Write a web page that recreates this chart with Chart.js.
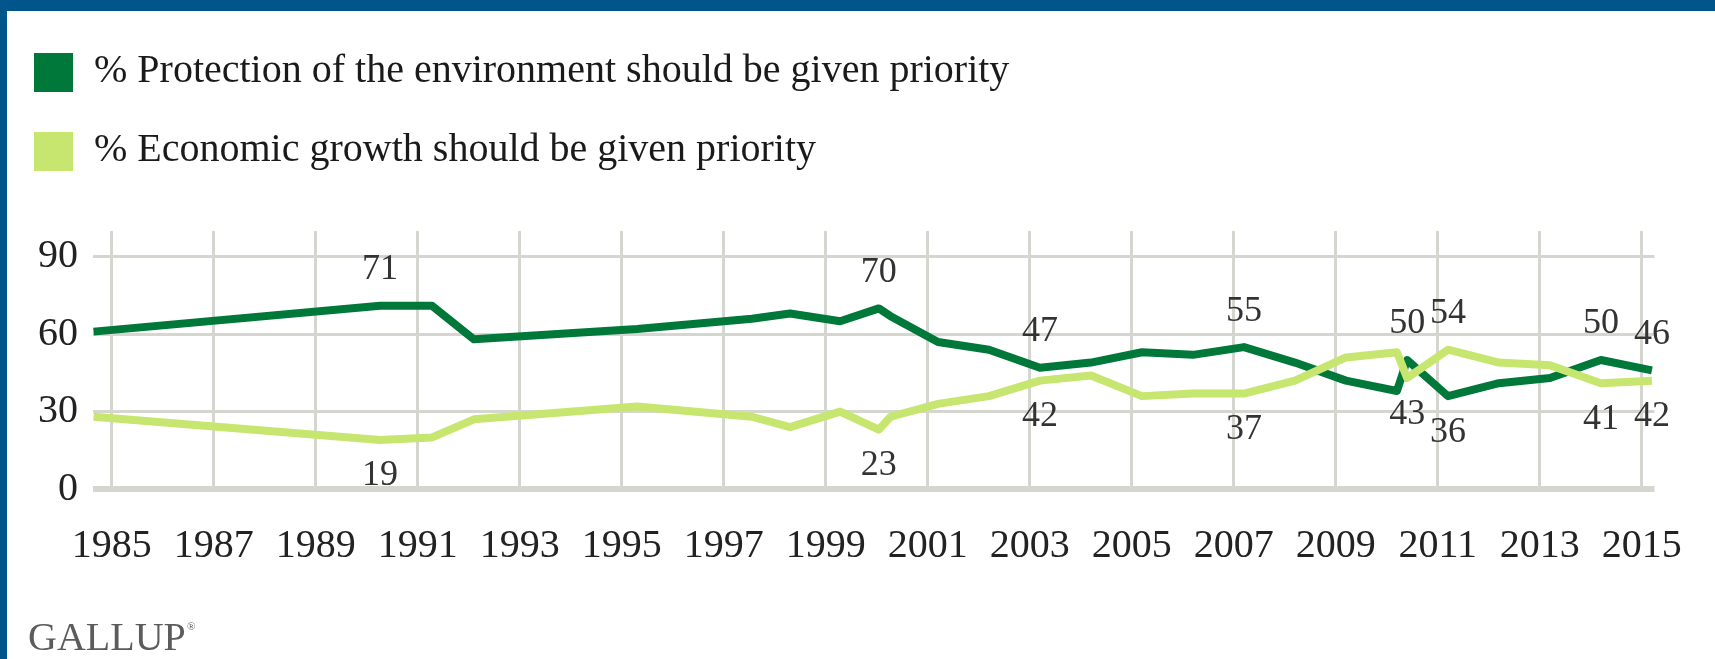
<!DOCTYPE html>
<html lang="en">
<head>
    <meta charset="UTF-8">
    <title>Environment vs. Economy</title>
    <script src="https://cdn.jsdelivr.net/npm/chart.js"></script>
    <style>
        body { margin: 0; background: #fff; }
        .frame-top { position: absolute; left: 0; top: 0; width: 1715px; height: 11px; background: #00568b; }
        .frame-left { position: absolute; left: 0; top: 0; width: 7px; height: 659px; background: #00568b; }
        canvas { position: absolute; left: 0; top: 0; }
    </style>
</head>
<body>
    <canvas id="myChart" width="1715" height="659"></canvas>
    <div class="frame-top"></div>
    <div class="frame-left"></div>

    <script>
        // survey dates (fractional years) and results
        const years = [1984.64, 1990.26, 1991.28, 1992.1, 1995.3, 1997.55, 1998.3, 1999.28, 2000.04, 2000.27,
                       2001.2, 2002.2, 2003.2, 2004.2, 2005.2, 2006.2, 2007.2, 2008.2, 2009.2, 2010.2,
                       2010.4, 2011.2, 2012.2, 2013.2, 2014.2, 2015.2];
        const envPriority = [61, 71, 71, 58, 62, 66, 68, 65, 70, 67, 57, 54, 47, 49, 53, 52, 55, 49, 42, 38, 50, 36, 41, 43, 50, 46];
        const econPriority = [28, 19, 20, 27, 32, 28, 24, 30, 23, 28, 33, 36, 42, 44, 36, 37, 37, 42, 51, 53, 43, 54, 49, 48, 41, 42];
        const labelledYears = [1990.26, 2000.04, 2003.2, 2007.2, 2010.4, 2011.2, 2014.2, 2015.2];
        const xTickYears = [1985, 1987, 1989, 1991, 1993, 1995, 1997, 1999, 2001, 2003, 2005, 2007, 2009, 2011, 2013, 2015];
        const yTickValues = [0, 30, 60, 90];
        const seriesNames = ['% Protection of the environment should be given priority',
                             '% Economic growth should be given priority'];
        const seriesColors = ['#00783a', '#c6e66f'];

        const serif = '"Liberation Serif", "DejaVu Serif", serif';
        Chart.defaults.font.family = serif;

        // legend, data labels and logo drawn straight on the canvas
        const extras = {
            id: 'extras',
            afterDatasetsDraw(chart) {
                const c = chart.ctx;
                const xs = chart.scales.x, ys = chart.scales.y;
                c.save();
                c.font = '36px ' + serif;
                c.fillStyle = '#333';
                c.textAlign = 'center';
                c.textBaseline = 'middle';
                labelledYears.forEach(yr => {
                    const i = years.indexOf(yr);
                    const px = xs.getPixelForValue(yr);
                    const envUp = envPriority[i] >= econPriority[i];
                    const ey = ys.getPixelForValue(envPriority[i]);
                    const gy = ys.getPixelForValue(econPriority[i]);
                    c.fillText(String(envPriority[i]), px, envUp ? ey - 36 : ey + 36);
                    c.fillText(String(econPriority[i]), px, envUp ? gy + 36 : gy - 36);
                });
                c.restore();
            },
            afterDraw(chart) {
                const c = chart.ctx;
                c.save();
                // legend
                c.font = '40px ' + serif;
                c.fillStyle = '#1a1a1a';
                c.textBaseline = 'alphabetic';
                seriesNames.forEach((name, k) => {
                    const top = k === 0 ? 53 : 132;
                    c.fillStyle = seriesColors[k];
                    c.fillRect(34, top, 39, 39);
                    c.fillStyle = '#1a1a1a';
                    c.fillText(name, 94, top + 29);
                });
                // logo
                c.fillStyle = '#5c5c5c';
                c.font = '40px ' + serif;
                c.fillText('GALLUP', 28, 650);
                c.font = '11px ' + serif;
                c.fillText('®', 187, 630);
                c.restore();
            }
        };

        const ctx = document.getElementById('myChart').getContext('2d');
        const myChart = new Chart(ctx, {
            type: 'line',
            data: {
                datasets: [
                    {
                        label: seriesNames[0],
                        data: years.map((x, i) => ({ x: x, y: envPriority[i] })),
                        borderColor: seriesColors[0],
                        borderWidth: 8,
                        pointRadius: 0,
                        borderJoinStyle: 'round',
                        tension: 0,
                        order: 1
                    },
                    {
                        label: seriesNames[1],
                        data: years.map((x, i) => ({ x: x, y: econPriority[i] })),
                        borderColor: seriesColors[1],
                        borderWidth: 8,
                        pointRadius: 0,
                        borderJoinStyle: 'round',
                        tension: 0,
                        order: 0
                    }
                ]
            },
            options: {
                responsive: false,
                animation: false,
                devicePixelRatio: 1,
                layout: { padding: { left: 0, top: 231, right: 35, bottom: 0 } },
                plugins: { legend: { display: false }, tooltip: { enabled: false } },
                scales: {
                    x: {
                        type: 'linear',
                        min: 1984.63,
                        max: 2015.25,
                        afterBuildTicks: s => { s.ticks = xTickYears.map(v => ({ value: v })); },
                        afterFit: s => { s.height = 170; },
                        border: { display: false },
                        grid: { color: '#d6d6d1', lineWidth: 3, drawTicks: false },
                        ticks: {
                            padding: 33,
                            color: '#222',
                            font: { size: 40 },
                            maxRotation: 0,
                            autoSkip: false,
                            callback: v => String(v)
                        }
                    },
                    y: {
                        min: 0,
                        max: 100,
                        afterBuildTicks: s => { s.ticks = yTickValues.map(v => ({ value: v })); },
                        afterFit: s => { s.width = 93; },
                        border: { display: false },
                        grid: {
                            color: '#d6d6d1',
                            lineWidth: c => (c.tick && c.tick.value === 0 ? 6 : 3),
                            drawTicks: false
                        },
                        ticks: {
                            padding: 15,
                            color: '#222',
                            font: { size: 40 },
                            callback: v => String(v)
                        }
                    }
                }
            },
            plugins: [extras]
        });
    </script>
</body>
</html>
